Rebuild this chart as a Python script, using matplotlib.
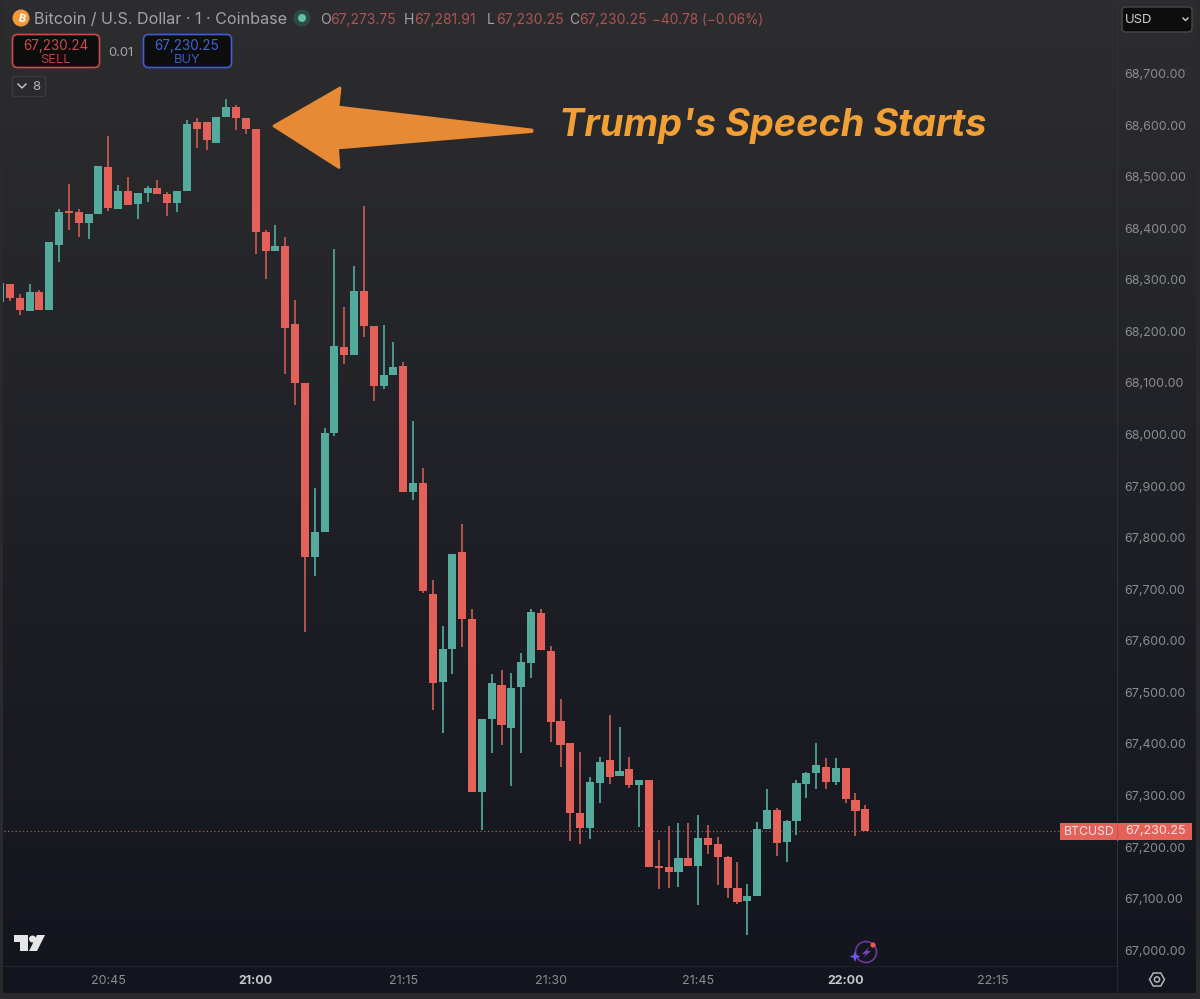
import numpy as np
import matplotlib
matplotlib.use("Agg")
import matplotlib.pyplot as plt
from matplotlib.patches import Polygon, Circle, FancyBboxPatch, Rectangle

plt.rcParams['font.family'] = ['Inter', 'DejaVu Sans']

# minutes relative to 21:00, one candle per minute
minutes = list(range(-26, 63))
opens = [68256, 68291, 68264, 68239, 68276, 68242, 68367, 68433, 68431, 68411,
         68427, 68519, 68438, 68472, 68446, 68468, 68477, 68467, 68448, 68472,
         68606, 68606, 68565, 68615, 68635, 68613, 68593, 68393, 68356, 68366,
         68214, 68099, 67762, 67810, 68002, 68170, 68155, 68278, 68211, 68095,
         68115, 68133, 67888, 67905, 67691, 67521, 67584, 67772, 67642, 67306,
         67448, 67514, 67430, 67510, 67557, 67654, 67580, 67444, 67402, 67267,
         67237, 67324, 67369, 67337, 67351, 67321, 67330, 67163, 67161, 67152,
         67179, 67164, 67218, 67205, 67180, 67120, 67095, 67106, 67236, 67271,
         67209, 67250, 67322, 67343, 67355, 67326, 67353, 67292, 67273.75]
highs = [68293, 68291, 68272, 68291, 68280, 68373, 68437, 68485, 68437, 68427,
         68521, 68579, 68484, 68499, 68469, 68482, 68493, 68471, 68472, 68610,
         68614, 68606, 68616, 68650, 68638, 68613, 68593, 68397, 68406, 68382,
         68261, 68099, 67897, 68012, 68359, 68247, 68327, 68444, 68211, 68212,
         68180, 68140, 68026, 67936, 67717, 67629, 67768, 67826, 67661, 67448,
         67535, 67543, 67537, 67576, 67661, 67662, 67590, 67488, 67402, 67385,
         67335, 67374, 67456, 67433, 67374, 67330, 67330, 67214, 67240, 67246,
         67247, 67262, 67243, 67219, 67183, 67172, 67128, 67249, 67312, 67276,
         67252, 67330, 67346, 67401, 67373, 67373, 67353, 67305, 67281.91]
lows = [68256, 68258, 68232, 68239, 68242, 68242, 68335, 68397, 68382, 68380,
        68427, 68433, 68438, 68445, 68418, 68451, 68467, 68424, 68431, 68472,
        68555, 68552, 68565, 68615, 68590, 68583, 68350, 68302, 68356, 68117,
        68057, 67618, 67726, 67810, 67997, 68137, 68155, 68190, 68064, 68088,
        68115, 67888, 67873, 67692, 67466, 67421, 67535, 67587, 67306, 67233,
        67383, 67397, 67318, 67382, 67527, 67582, 67403, 67355, 67212, 67206,
        67216, 67285, 67322, 67337, 67315, 67238, 67161, 67119, 67121, 67123,
        67163, 67088, 67186, 67127, 67101, 67090, 67029, 67106, 67236, 67183,
        67172, 67223, 67295, 67313, 67313, 67320, 67285, 67221, 67230.25]
closes = [68293, 68264, 68242, 68276, 68242, 68373, 68432, 68430, 68411, 68427,
          68521, 68440, 68472, 68445, 68468, 68477, 68467, 68448, 68472, 68603,
          68592, 68571, 68616, 68635, 68614, 68592, 68392, 68356, 68366, 68207,
          68099, 67762, 67810, 68003, 68171, 68155, 68278, 68211, 68095, 68115,
          68130, 67888, 67905, 67696, 67518, 67585, 67768, 67642, 67306, 67448,
          67519, 67436, 67509, 67558, 67655, 67582, 67443, 67398, 67267, 67237,
          67327, 67365, 67335, 67348, 67320, 67330, 67161, 67159, 67152, 67179,
          67163, 67218, 67204, 67180, 67120, 67094, 67105, 67236, 67271, 67208,
          67250, 67324, 67343, 67359, 67326, 67353, 67294, 67269, 67230.25]

last_price = 67230.25
price_ticks = [68700, 68600, 68500, 68400, 68300, 68200, 68100, 68000, 67900,
               67800, 67700, 67600, 67500, 67400, 67300, 67200, 67100, 67000]
time_ticks = [-15, 0, 15, 30, 45, 60, 75]
time_labels = ['20:45', '21:00', '21:15', '21:30', '21:45', '22:00', '22:15']

RED = '#e4615a'
GREEN = '#55aa9e'
RED_WICK = '#c0584f'
GREEN_WICK = '#4fa398'
AXIS_TEXT = '#8b8c90'
W, H = 1200, 999

fig = plt.figure(figsize=(12, 9.99), dpi=100)

# background gradient
bg = fig.add_axes([0, 0, 1, 1], zorder=0)
bg.axis('off')
grad = np.linspace(0, 1, 256).reshape(-1, 1, 1)
top = np.array([0x2d, 0x2d, 0x2f]) / 255
bottom = np.array([0x13, 0x15, 0x1e]) / 255
bg.imshow(top + (bottom - top) * grad, aspect='auto', extent=[0, W, H, 0])

# chart pane: x 0-1117 px, y 0-966 px
ax = fig.add_axes([0, 1 - 966 / H, 1117 / W, 966 / H], zorder=1)
ax.patch.set_alpha(0)
ax.set_xlim(-26.01, 87.6)
ax.set_ylim(66969.4, 68842.5)

opens_a = np.array(opens)
closes_a = np.array(closes)
colors = [GREEN if c >= o else RED for o, c in zip(opens, closes)]
wicks = [GREEN_WICK if c >= o else RED_WICK for o, c in zip(opens, closes)]

ax.vlines(minutes, lows, highs, colors=wicks, linewidth=1.3, zorder=2)
ax.bar(minutes, np.abs(closes_a - opens_a), bottom=np.minimum(opens_a, closes_a),
       width=0.82, color=colors, linewidth=0, zorder=3)
ax.axhline(last_price, color='#a85a5c', linewidth=0.9, linestyle=(0, (1, 2)), zorder=1)

ax.set_xticks(time_ticks)
ax.set_xticklabels(time_labels)
ax.set_yticks(price_ticks)
ax.set_yticklabels([f'{p:,.2f}' for p in price_ticks])
ax.yaxis.tick_right()
ax.tick_params(axis='both', length=0, labelsize=9.0, labelcolor=AXIS_TEXT)
ax.tick_params(axis='x', pad=6.8)
ax.tick_params(axis='y', pad=5.5)
for lab in ax.get_xticklabels():
    if lab.get_text() in ('21:00', '22:00'):
        lab.set_fontweight('bold')
        lab.set_color('#c8c8cb')
for s in ('top', 'left'):
    ax.spines[s].set_visible(False)
ax.spines['right'].set_color('#303136')
ax.spines['bottom'].set_color('#22232a')
ax.spines['right'].set_linewidth(0.8)
ax.spines['bottom'].set_linewidth(0.8)

# overlay in pixel coordinates for the interface parts
ov = fig.add_axes([0, 0, 1, 1], zorder=5)
ov.set_xlim(0, W)
ov.set_ylim(H, 0)
ov.axis('off')


def box(x0, y0, x1, y1, edge, face, r=4, lw=1.2):
    ov.add_patch(FancyBboxPatch((x0 + r, y0 + r), x1 - x0 - 2 * r, y1 - y0 - 2 * r,
                                boxstyle=f'round,pad={r},rounding_size={r}',
                                edgecolor=edge, facecolor=face, linewidth=lw))


def txt(x, y, s, color, size=9, ha='left', **kw):
    ov.text(x, y + 2, s, color=color, fontsize=size, ha=ha, va='center', **kw)


# edges of the screenshot
ov.add_patch(Rectangle((0, 993), W, 6, color='#2a2a2c', linewidth=0))
ov.add_patch(Rectangle((1196, 0), 4, H, color='#2a2a2c', linewidth=0))
ov.add_patch(Rectangle((0, 0), 2.8, H, color='#2a2a2c', linewidth=0))
ov.plot([1117, 1117], [966, 992], color='#26272d', lw=0.8)

# header
ov.add_patch(Circle((21, 18), 8.5, color='#f0993a', linewidth=0))
ov.text(21, 18.5, 'B', color='white', fontsize=8, ha='center', va='center',
        fontweight='bold', rotation=-12)
txt(34, 18, 'Bitcoin / U.S. Dollar \u00b7 1 \u00b7 Coinbase', '#a3a3a6', 11.6)
ov.add_patch(Circle((302, 18), 8.5, color='#2f4a45', linewidth=0))
ov.add_patch(Circle((302, 18), 4, color='#62c2a8', linewidth=0))
HEAD_RED = '#ad5553'
txt(320, 18, 'O', '#a3a3a6', 10)
txt(330, 18, '67,273.75', HEAD_RED, 10)
txt(404, 18, 'H', '#a3a3a6', 10)
txt(414, 18, '67,281.91', HEAD_RED, 10)
txt(487, 18, 'L', '#a3a3a6', 10)
txt(496, 18, '67,230.25', HEAD_RED, 10)
txt(569, 18, 'C', '#a3a3a6', 10)
txt(579, 18, '67,230.25', HEAD_RED, 10)
txt(652, 18, '\u221240.78 (\u22120.06%)', HEAD_RED, 9.8)

box(12.5, 34.5, 99.5, 67.5, '#c94c4c', '#0d0d0e', r=5)
txt(55.5, 44, '67,230.24', '#cf4a4a', 9.7, ha='center')
txt(55, 58, 'SELL', '#b8423f', 9.3, ha='center')
txt(121, 51, '0.01', '#a9a9ab', 9.3, ha='center')
box(143.5, 34.5, 231.5, 67.5, '#3d5fd0', '#0d0d0e', r=5)
txt(187, 44, '67,230.25', '#3f63d6', 9.7, ha='center')
txt(187, 58, 'BUY', '#3a5abf', 9.3, ha='center')
box(12.5, 76.5, 45.5, 96.5, '#3b3b3e', '#2a2a2c', r=2.5, lw=1.0)
ov.plot([18, 22, 26], [84, 88, 84], color='#c9c9cb', lw=1.0)
txt(32, 84.5, '8', '#b4b4b6', 9.5)

box(1122, 7, 1192, 32, '#48484b', '#0d0d0e', r=4, lw=1.0)
txt(1125, 18, 'USD', '#d0d0d2', 9.4)
ov.plot([1183, 1185.5, 1188], [18, 20.5, 18], color='#d0d0d2', lw=1.0)

# arrow and annotation
arrow_pts = [(274, 126), (340, 88), (338, 107), (532, 130), (532, 131.5), (337.5, 148), (339, 167.5)]
ov.add_patch(Polygon(arrow_pts, closed=True, facecolor='#e78a36', edgecolor='#e78a36',
                     linewidth=2, joinstyle='round'))
ov.text(559, 126, "Trump's Speech Starts", color='#f2a035', fontsize=27.3, fontweight='bold',
        fontstyle='italic', family='Inter', ha='left', va='center')

# last price label
ov.add_patch(Rectangle((1060, 823.3), 132, 17, color=RED, linewidth=0))
ov.plot([1117, 1117], [823.3, 840.3], color='#c9544e', lw=0.8)
txt(1064, 830, 'BTCUSD', '#f6e3e1', 8.8)
txt(1125, 829.5, '67,230.25', '#f6e3e1', 9.0)

# TradingView logo
ov.add_patch(Polygon([(14, 935), (28, 935), (28, 951), (20, 951), (20, 942), (14, 942)],
                     closed=True, color='#e6e6e8', linewidth=0))
ov.add_patch(Circle((32.5, 939), 3.5, color='#e6e6e8', linewidth=0))
ov.add_patch(Polygon([(37, 935), (45, 935), (37, 951), (29, 951)], closed=True,
                     color='#e6e6e8', linewidth=0))

# assistant badge
ov.add_patch(Circle((866, 952), 10.5, fill=False, edgecolor='#6a3a9e', linewidth=1.2))
ov.add_patch(Polygon([(869, 947), (862, 954), (866, 954), (863, 958), (871, 951), (867, 951)],
                     closed=True, color='#7a42b8', linewidth=0))
ov.add_patch(Polygon([(855, 951), (856.5, 955), (860.5, 956.5), (856.5, 958), (855, 962),
                      (853.5, 958), (849.5, 956.5), (853.5, 955)],
                     closed=True, color='#6a57f0', linewidth=0))
ov.add_patch(Circle((873, 945), 2.6, color='#e8594a', linewidth=0))

# settings hexagon
hx, hy, hr = 1157, 979.5, 7.5
hex_pts = [(hx + hr * np.cos(a), hy + hr * np.sin(a)) for a in np.radians(range(0, 360, 60))]
ov.add_patch(Polygon(hex_pts, closed=True, fill=False, edgecolor='#b4b4b8', linewidth=1.1))
ov.add_patch(Circle((hx, hy), 2.6, fill=False, edgecolor='#b4b4b8', linewidth=1.1))

fig.savefig('out.png', dpi=100)
